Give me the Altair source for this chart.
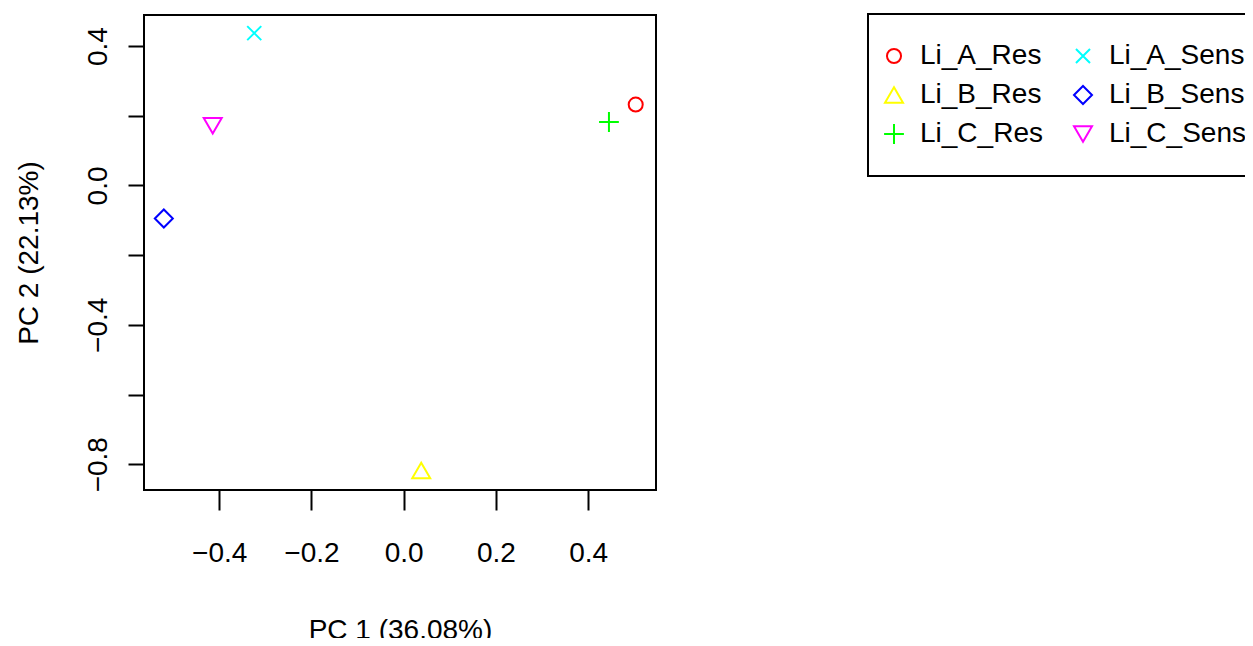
import altair as alt
import pandas as pd

# ---- data ----
samples = ["Li_A_Res", "Li_B_Res", "Li_C_Res", "Li_A_Sens", "Li_B_Sens", "Li_C_Sens"]
pc1 = [0.503, 0.038, 0.445, -0.324, -0.520, -0.414]
pc2 = [0.232, -0.818, 0.182, 0.437, -0.095, 0.171]
colors = ["#FF0000", "#FFFF00", "#00FF00", "#00FFFF", "#0000FF", "#FF00FF"]
shapes = [
    "M0.78,0A0.78,0.78,0,1,1,-0.78,0A0.78,0.78,0,1,1,0.78,0Z",  # open circle
    "triangle-up",
    "M-1.1,0L1.1,0M0,-1.1L0,1.1",                                # plus
    "M-0.78,-0.78L0.78,0.78M-0.78,0.78L0.78,-0.78",              # x
    "diamond",
    "triangle-down",
]
x_ticks = [-0.4, -0.2, 0.0, 0.2, 0.4]
y_ticks = [-0.8, -0.6, -0.4, -0.2, 0.0, 0.2, 0.4]
x_domain = [-0.563, 0.547]
y_domain = [-0.874, 0.489]

df = pd.DataFrame({"sample": samples, "PC1": pc1, "PC2": pc2})

FONT = "Liberation Sans"

legend = alt.Legend(title=None, orient="none", legendX=724, legendY=-1,
                    columns=2, symbolSize=324, symbolStrokeWidth=2,
                    labelFontSize=28, labelColor="black",
                    columnPadding=27, rowPadding=11, padding=28,
                    symbolOffset=-16, labelOffset=12,
                    strokeColor="black", labelLimit=400)

chart = alt.Chart(df).mark_point(filled=False, size=324, strokeWidth=2, opacity=1).encode(
    x=alt.X("PC1:Q", scale=alt.Scale(domain=x_domain, nice=False, zero=False),
            axis=alt.Axis(title="PC 1 (36.08%)", values=x_ticks, format=".1f",
                          grid=False, domain=False, tickSize=20, tickWidth=2, tickColor="black",
                          labelFontSize=28, labelPadding=29, labelColor="black",
                          titleFontSize=28, titleFontWeight="normal", titleColor="black",
                          titleY=126, titleBaseline="top")),
    y=alt.Y("PC2:Q", scale=alt.Scale(domain=y_domain, nice=False, zero=False),
            axis=alt.Axis(title="PC 2 (22.13%)", values=y_ticks,
                          labelExpr="abs(round(datum.value*10)) % 4 == 0 ? format(datum.value, '.1f') : ''",
                          grid=False, domain=False, tickSize=16, tickWidth=2, tickColor="black",
                          labelFontSize=28, labelPadding=22, labelAngle=270,
                          labelAlign="center", labelBaseline="alphabetic", labelColor="black",
                          titleFontSize=28, titleFontWeight="normal", titleColor="black",
                          titleX=-107, titleY=237.5, titleAngle=270,
                          titleBaseline="alphabetic", titleAlign="center")),
    color=alt.Color("sample:N", scale=alt.Scale(domain=samples, range=colors), legend=legend),
    shape=alt.Shape("sample:N", scale=alt.Scale(domain=samples, range=shapes), legend=legend),
).properties(
    width=512, height=475,
    autosize=alt.AutoSizeParams(type="none"),
    padding={"left": 136, "top": 7, "right": 589, "bottom": 148},
).configure(
    font=FONT
).configure_view(
    stroke="black", strokeWidth=2
).configure_legend(
    strokeWidth=2
)

chart.save("out.html", embed_options={"renderer": "svg", "actions": False})
